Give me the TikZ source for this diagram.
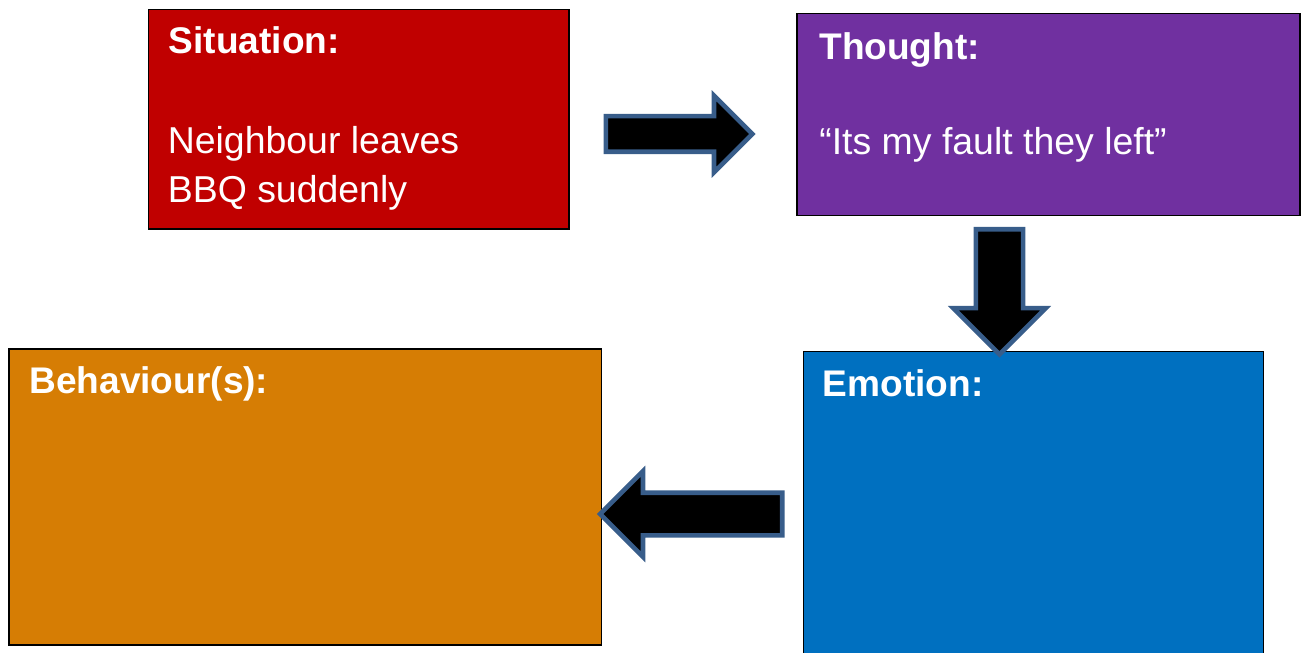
\documentclass[tikz,border=0pt]{standalone}
\usepackage{fontspec}
\setmainfont{Liberation Sans}
\usepackage{tikz}
\usetikzlibrary{shapes.arrows}
\definecolor{sitred}{HTML}{C00000}
\definecolor{thopurple}{HTML}{7030A0}
\definecolor{emoblue}{HTML}{0070C0}
\definecolor{behorange}{HTML}{D67D04}
\definecolor{arrowedge}{HTML}{385D8A}

\begin{document}
\begin{tikzpicture}[
        panel/.style = {draw=black, line width=1.1pt, inner sep=0pt},
        paneltext/.style = {anchor=base west, inner sep=0pt, text=white, font=\fontsize{21.3}{27.9}\selectfont},
        paneltitle/.style = {paneltext, font=\fontsize{21.1}{27.9}\selectfont\bfseries},
        blockarrow/.style = {single arrow, draw=arrowedge, fill=black, line width=2.6pt, inner xsep=0pt,
            minimum width=0pt, single arrow tip angle=90, anchor=tail}
    ]
                \useasboundingbox (0,0) rectangle (26.06,13.04);

                \node[panel, fill=sitred, minimum width=8.41cm, minimum height=4.39cm] (sit) at (7.175,10.655) {};
                \node[panel, fill=thopurple, minimum width=10.06cm, minimum height=4.04cm] (tho) at (20.97,10.75) {};
                \node[panel, fill=emoblue, minimum width=9.2cm, minimum height=7.01cm] (emo) at (20.67,2.505) {};
                \node[panel, fill=behorange, minimum width=11.85cm, minimum height=5.92cm] (beh) at (6.105,3.10) {};

                \node[blockarrow, inner ysep=0.31cm, single arrow head extend=0.41cm, minimum height=2.93cm] (sittotho) at (12.07,10.36) {};
                \node[blockarrow, rotate=-90, inner ysep=0.427cm, single arrow head extend=0.45cm, minimum height=2.50cm] (thotoemo) at (19.99,8.5) {};
                \node[blockarrow, rotate=180, inner ysep=0.38cm, single arrow head extend=0.43cm, minimum height=3.64cm] (emotobeh) at (15.69,2.76) {};

                \node[paneltitle] (sithead) at (3.37,11.97) {Situation:};
                \node[paneltext] (sitline1) at (3.35,9.97) {Neighbour leaves};
                \node[paneltext] (sitline2) at (3.35,8.99) {BBQ suddenly};
                \node[paneltitle] (thohead) at (16.38,11.84) {Thought:};
                \node[paneltext] (tholine) at (16.38,9.94) {“Its my fault they left”};
                \node[paneltitle] (emohead) at (16.45,5.11) {Emotion:};
                \node[paneltitle] (behhead) at (0.58,5.17) {Behaviour(s):};
            \end{tikzpicture}
\end{document}
